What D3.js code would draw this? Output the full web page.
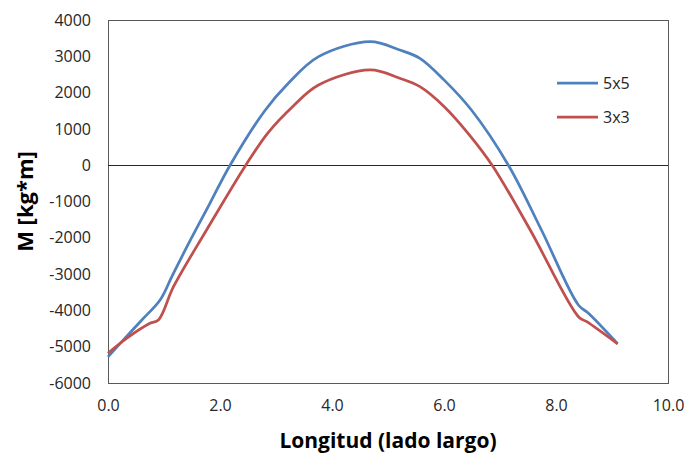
<!DOCTYPE html>
<html><head><meta charset="utf-8">
<script src="https://cdn.jsdelivr.net/npm/d3@7"></script>
<style>body{margin:0;background:#fff}svg{display:block}</style>
</head><body><svg id="c" width="688" height="453"></svg>
<script>
const seriesNames = ["5x5", "3x3"];
const x5 = [0, 0.3, 0.6, 0.93, 1.14, 1.41, 1.82, 2.18, 2.8, 3.22, 3.76, 4.68, 5.21, 5.57, 6.0, 6.49, 7.15, 7.74, 8.4, 8.58, 9.1];
const y5 = [-5280, -4770, -4270, -3713, -3070, -2245, -1050, 0, 1500, 2256, 2990, 3403, 3174, 2945, 2350, 1520, 0, -1785, -3851, -4080, -4920];
const x3 = [0, 0.35, 0.75, 0.9, 1.17, 1.76, 2.46, 2.86, 3.3, 3.76, 4.68, 5.21, 5.57, 6.0, 6.43, 6.86, 7.54, 8.4, 8.55, 9.1];
const y3 = [-5180, -4750, -4355, -4264, -3347, -1785, 0, 900, 1620, 2209, 2623, 2394, 2163, 1620, 879, 0, -1785, -4173, -4311, -4920];
const xTicks = [0, 2, 4, 6, 8, 10];
const yTicks = [-6000, -5000, -4000, -3000, -2000, -1000, 0, 1000, 2000, 3000, 4000];
const colors = ["#4F81BD", "#C0504D"];

const svg = d3.select("#c");
const L = 108, R = 668, T = 20, B = 383;
const x = d3.scaleLinear().domain([0, 10]).range([L, R]);
const y = d3.scaleLinear().domain([-6000, 4000]).range([B, T]);
const font = "'Open Sans', sans-serif";

// plot frame
svg.append("rect").attr("x", L + 0.5).attr("y", T + 0.5).attr("width", R - L).attr("height", B - T)
  .attr("fill", "none").attr("stroke", "#595959").attr("stroke-width", 1);

// zero line
svg.append("line").attr("x1", L).attr("x2", R).attr("y1", Math.round(y(0)) + 0.5).attr("y2", Math.round(y(0)) + 0.5)
  .attr("stroke", "#262626").attr("stroke-width", 1);

// y axis ticks
const ya = svg.append("g").attr("transform", `translate(${L},0)`)
  .call(d3.axisLeft(y).tickValues(yTicks).tickSize(0).tickPadding(17).tickFormat(d => String(d)));
ya.select(".domain").remove();
ya.selectAll("text").attr("font-family", font).attr("font-size", 16).attr("fill", "#262626");

// x axis ticks
const xa = svg.append("g").attr("transform", `translate(0,${B})`)
  .call(d3.axisBottom(x).tickValues(xTicks).tickSize(0).tickPadding(17).tickFormat(d3.format(".1f")));
xa.select(".domain").remove();
xa.selectAll("text").attr("font-family", font).attr("font-size", 16).attr("fill", "#262626");

// lines
const line = d3.line().x(d => x(d[0])).y(d => y(d[1])).curve(d3.curveCatmullRom.alpha(0.5));
const data = [d3.zip(x5, y5), d3.zip(x3, y3)];
data.forEach((pts, i) => {
  svg.append("path").datum(pts).attr("d", line).attr("fill", "none")
    .attr("stroke", colors[i]).attr("stroke-width", 2.75).attr("stroke-linejoin", "round");
});

// legend
seriesNames.forEach((n, i) => {
  const ly = 83 + i * 34;
  svg.append("line").attr("x1", 557).attr("x2", 598).attr("y1", ly).attr("y2", ly)
    .attr("stroke", colors[i]).attr("stroke-width", 2.75);
  svg.append("text").attr("x", 603).attr("y", ly).attr("dy", "0.35em").text(n)
    .attr("font-family", font).attr("font-size", 16).attr("fill", "#262626");
});

// axis titles
svg.append("text").attr("x", (L + R) / 2).attr("y", 448).attr("text-anchor", "middle")
  .attr("font-family", font).attr("font-weight", "bold").attr("font-size", 21).attr("fill", "#000")
  .text("Longitud (lado largo)");
svg.append("text").attr("transform", `translate(33,${(T + B) / 2}) rotate(-90)`).attr("text-anchor", "middle")
  .attr("font-family", font).attr("font-weight", "bold").attr("font-size", 22).attr("fill", "#000")
  .text("M [kg*m]");
</script></body></html>
